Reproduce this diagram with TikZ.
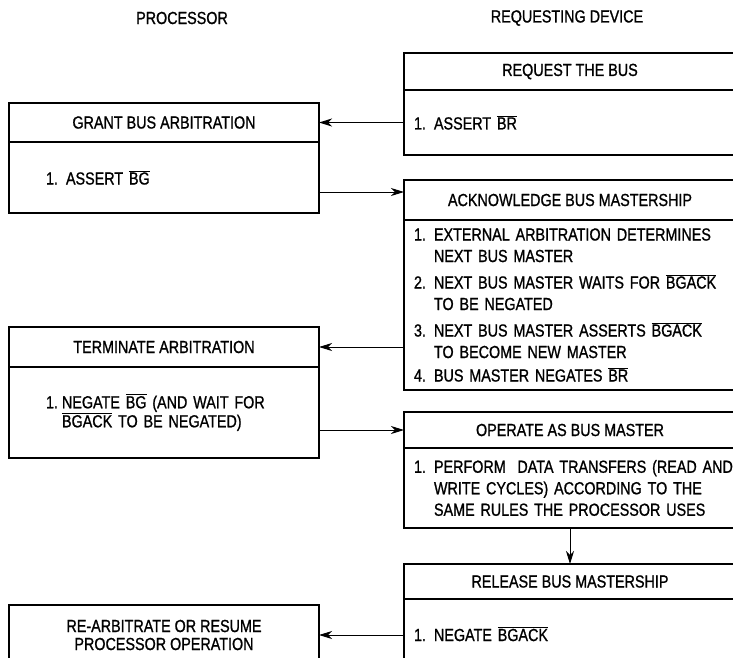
\documentclass[tikz,border=0pt]{standalone}
\usepackage{fontspec}
\setmainfont{Liberation Sans}[FakeStretch=0.82, FakeBold=1]
\usepackage{tikz}
\usetikzlibrary{arrows.meta}
\usetikzlibrary{positioning}

\newcommand{\ovl}[1]{$\overline{\mbox{#1}}$}
\newcommand{\stepno}[1]{\makebox[20pt][l]{#1}}
\newcommand{\stepcont}{\hspace*{20pt}}

\begin{document}
\begin{tikzpicture}
      [x=1pt, y=-1pt,
       font=\fontsize{17.5}{21.5}\selectfont,
       >={Stealth[length=13pt,width=8pt,inset=4pt]},
       every node/.style={inner sep=0pt, outer sep=0pt},
       lhead/.style={draw, line width=1.3pt, minimum width=310pt, anchor=north},
       rhead/.style={draw, line width=1.3pt, minimum width=332pt, anchor=north},
       lbody/.style={draw, line width=1.3pt, text width=236pt, inner xsep=37pt, align=left},
       rbody/.style={draw, line width=1.3pt, text width=312pt, inner xsep=10pt, align=left},
       link/.style={->, line width=1pt}]
      \useasboundingbox (0, 0) rectangle (733, 657);
      \clip (0, 0) rectangle (733, 657);

      \node (proc) [] at (182, 18) {PROCESSOR};
      \node (dev) [] at (567, 18) {REQUESTING DEVICE};

      % requesting device side
      \node (reqh) [rhead, minimum height=37pt] at (570, 53) {REQUEST THE BUS};
      \node (reqb) [rbody, minimum height=65pt, below=0pt of reqh] {\stepno{1.}ASSERT \ovl{BR}};

      \node (ackh) [rhead, minimum height=40pt] at (570, 180) {ACKNOWLEDGE BUS MASTERSHIP};
      \node (ackb) [rbody, minimum height=170pt, below=0pt of ackh]
        {\stepno{1.}\mbox{EXTERNAL ARBITRATION DETERMINES}\\ \stepcont NEXT BUS MASTER\\[5pt]
         \stepno{2.}\mbox{NEXT BUS MASTER WAITS FOR \ovl{BGACK}}\\ \stepcont TO BE NEGATED\\[5pt]
         \stepno{3.}\mbox{NEXT BUS MASTER ASSERTS \ovl{BGACK}}\\ \stepcont TO BECOME NEW MASTER\\[2pt]
         \stepno{4.}BUS MASTER NEGATES \ovl{BR}};

      \node (oph) [rhead, minimum height=36pt] at (570, 412) {OPERATE AS BUS MASTER};
      \node (opb) [rbody, minimum height=80pt, below=0pt of oph]
        {\stepno{1.}\mbox{PERFORM\ \ DATA TRANSFERS (READ AND}\\ \stepcont WRITE CYCLES) ACCORDING TO THE\\ \stepcont SAME RULES THE PROCESSOR USES};

      \node (relh) [rhead, minimum height=35pt] at (570, 564) {RELEASE BUS MASTERSHIP};
      \node (relb) [rbody, minimum height=70pt, below=0pt of relh] {\stepno{1.}NEGATE \ovl{BGACK}};

      % processor side
      \node (granth) [lhead, minimum height=39pt] at (164, 103) {GRANT BUS ARBITRATION};
      \node (grantb) [lbody, minimum height=71pt, below=0pt of granth] {\stepno{1.}ASSERT \ovl{BG}};

      \node (termh) [lhead, minimum height=40pt] at (164, 327) {TERMINATE ARBITRATION};
      \node (termb) [lbody, minimum height=91pt, below=0pt of termh]
        {\makebox[16pt][l]{1.}NEGATE \ovl{BG} (AND WAIT FOR\\[-2.5pt] \hspace*{16pt}\ovl{BGACK} TO BE NEGATED)};

      \node (rearb) [lhead, minimum height=60pt, align=center] at (164, 605)
        {RE-ARBITRATE OR RESUME\\[-3.5pt] PROCESSOR OPERATION};

      \coordinate (gy) at (0, 192);

      \draw [link] (reqb.west) -- (granth.east);
      \draw [link] (grantb.east |- gy) -- (ackh.west |- gy);
      \draw [link] (ackb.west |- termh) -- (termh.east);
      \draw [link] (termb.east |- oph) -- (oph.west);
      \draw [link] (opb.south) -- (relh.north);
      \draw [link] (relb.west |- rearb) -- (rearb.east);
    \end{tikzpicture}
\end{document}
